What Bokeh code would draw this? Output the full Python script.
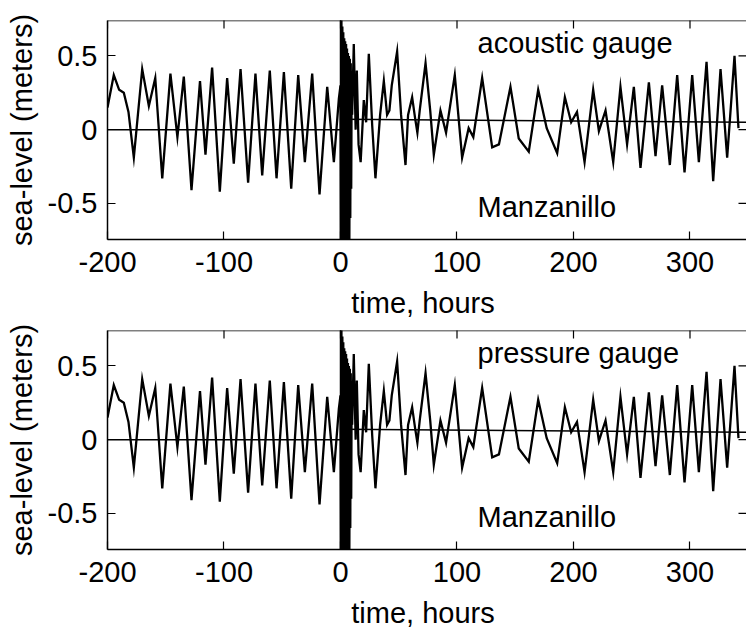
import math
from bokeh.plotting import figure
from bokeh.models import FixedTicker, Range1d, Label, NumeralTickFormatter, Span
from bokeh.layouts import column
from bokeh.embed import file_html
from bokeh.resources import INLINE

# ---- data (time in hours, sea level in meters) ----
hours = [
    -200.0, -194.6, -190.0, -186.0, -182.0, -177.4, -170.2, -164.5, -159.0, -153.0,
    -146.0, -140.0, -134.5, -127.9, -120.6, -115.9, -110.2, -103.6, -97.3, -91.6,
    -85.8, -79.3, -73.0, -67.2, -60.7, -54.9, -48.6, -42.3, -36.3, -30.6,
    -24.3, -18.0, -11.4, -5.7, -1.4,
    0.0, 0.4, 0.8, 1.2, 1.6, 2.0, 2.4, 2.8, 3.2, 3.6, 4.0, 4.4, 4.8, 5.2, 5.6,
    6.0, 6.4, 6.8, 7.2, 7.6, 8.0, 8.4, 8.8, 9.2, 9.6, 10.0,
    11.4, 13.0, 14.0, 15.5, 17.3, 20.0, 22.0, 24.3, 27.2, 30.0, 34.0, 37.2, 40.0,
    42.0, 44.0, 48.6, 52.0, 55.8, 58.0, 61.5, 64.0, 66.0, 68.0, 73.0, 77.0, 80.1,
    85.8, 90.6, 98.1, 104.4, 110.0, 114.0, 121.6,
    130.2, 136.0, 145.9, 153.0, 161.6, 169.7, 177.0, 186.0, 192.6, 198.0, 203.0,
    209.5, 216.9, 221.8, 227.5, 234.1, 240.3, 246.0, 251.8, 257.5, 264.7, 270.4,
    276.1, 282.7, 289.0, 295.3, 301.9, 307.6, 314.2, 319.9, 326.2, 331.9, 338.2,
    341.6,
]
acoustic_level = [
    0.15, 0.37, 0.27, 0.25, 0.12, -0.19, 0.41, 0.16, 0.35, -0.33,
    0.38, -0.05, 0.36, -0.41, 0.33, -0.17, 0.42, -0.42, 0.35, -0.23,
    0.41, -0.36, 0.38, -0.31, 0.40, -0.33, 0.39, -0.40, 0.37, -0.22,
    0.38, -0.44, 0.29, -0.22, 0.21,
    0.30, -0.85, 0.78, -0.85, 0.70, -0.85, 0.66, -0.85, 0.62, -0.85, 0.60, -0.85,
    0.58, -0.85, 0.55, -0.85, 0.52, -0.80, 0.50, -0.80, 0.48, -0.60, 0.45, -0.40,
    0.40, 0.10,
    0.58, 0.00, 0.40, -0.10, -0.22, 0.20, 0.05, 0.515, 0.03, -0.33, 0.10, 0.33, 0.10,
    0.13, 0.30, 0.53, 0.10, -0.24, 0.10, 0.22, 0.08, -0.02, 0.13, 0.45, 0.13, -0.17,
    0.13, -0.02, 0.37, -0.19, 0.01, -0.05, 0.35,
    -0.12, -0.10, 0.29, -0.06, -0.15, 0.27, 0.01, -0.16, 0.22, 0.05, 0.12,
    -0.22, 0.27, -0.01, 0.13, -0.22, 0.29, -0.10, 0.29, -0.26, 0.32, -0.18,
    0.30, -0.24, 0.37, -0.29, 0.37, -0.22, 0.46, -0.35, 0.41, -0.19, 0.50,
    0.01,
]
# the pressure-gauge record is visually identical to the acoustic one
pressure_level = [
    0.15, 0.37, 0.27, 0.25, 0.12, -0.19, 0.41, 0.16, 0.35, -0.33,
    0.38, -0.05, 0.36, -0.41, 0.33, -0.17, 0.42, -0.42, 0.35, -0.23,
    0.41, -0.36, 0.38, -0.31, 0.40, -0.33, 0.39, -0.40, 0.37, -0.22,
    0.38, -0.44, 0.29, -0.22, 0.21,
    0.30, -0.85, 0.78, -0.85, 0.70, -0.85, 0.66, -0.85, 0.62, -0.85, 0.60, -0.85,
    0.58, -0.85, 0.55, -0.85, 0.52, -0.80, 0.50, -0.80, 0.48, -0.60, 0.45, -0.40,
    0.40, 0.10,
    0.58, 0.00, 0.40, -0.10, -0.22, 0.20, 0.05, 0.515, 0.03, -0.33, 0.10, 0.33, 0.10,
    0.13, 0.30, 0.53, 0.10, -0.24, 0.10, 0.22, 0.08, -0.02, 0.13, 0.45, 0.13, -0.17,
    0.13, -0.02, 0.37, -0.19, 0.01, -0.05, 0.35,
    -0.12, -0.10, 0.29, -0.06, -0.15, 0.27, 0.01, -0.16, 0.22, 0.05, 0.12,
    -0.22, 0.27, -0.01, 0.13, -0.22, 0.29, -0.10, 0.29, -0.26, 0.32, -0.18,
    0.30, -0.24, 0.37, -0.29, 0.37, -0.22, 0.46, -0.35, 0.41, -0.19, 0.50,
    0.01,
]
# reference (mean) levels before and after the arrival
mean_before_t = [-200, 0]
mean_before_v = [0.0, 0.0]
mean_after_t = [0, 350]
mean_after_v = [0.07, 0.05]
arrival_t = [0, 0]
arrival_v = [-0.8, 0.8]

x_ticks = [-200, -100, 0, 100, 200, 300]
y_ticks = [-0.5, 0, 0.5]
gauge_names = ["acoustic gauge", "pressure gauge"]
station = "Manzanillo"
x_label = "time,  hours"
y_label = "sea-level (meters)"

X_MIN, X_MAX = -200, 348.5
Y_MIN, Y_MAX = -0.745, 0.74
FONT = "Liberation Sans"
FS = "29px"


def style_axis(ax):
    ax.axis_line_color = "black"
    ax.axis_line_width = 1.5
    ax.major_tick_line_color = "black"
    ax.major_tick_line_width = 1.2
    ax.major_tick_in = 8
    ax.major_tick_out = 0
    ax.minor_tick_line_color = None
    ax.major_label_text_font = FONT
    ax.major_label_text_color = "black"
    ax.major_label_text_font_size = FS
    ax.axis_label_text_font = FONT
    ax.axis_label_text_font_size = FS
    ax.axis_label_text_font_style = "normal"
    ax.axis_label_text_color = "black"


def panel(level, gauge, height, border_top):
    p = figure(width=746, height=height, output_backend="svg", toolbar_location=None,
               x_range=Range1d(X_MIN, X_MAX), y_range=Range1d(Y_MIN, Y_MAX),
               min_border_left=107, min_border_right=0, min_border_top=border_top,
               min_border_bottom=81, background_fill_color="white",
               border_fill_color="white", outline_line_color=None)
    p.grid.visible = False

    xb = p.xaxis[0]
    xb.ticker = FixedTicker(ticks=x_ticks)
    xb.formatter = NumeralTickFormatter(format="0")
    style_axis(xb)
    xb.major_label_standoff = 12
    xb.axis_label = x_label
    xb.axis_label_standoff = 12

    yl = p.yaxis[0]
    yl.ticker = FixedTicker(ticks=y_ticks)
    yl.formatter = NumeralTickFormatter(format="0.[0]")
    style_axis(yl)
    yl.major_label_standoff = 10
    yl.axis_label = y_label
    yl.axis_label_standoff = 7

    # top frame edge, with inward tick marks on top and right edges
    p.add_layout(Span(location=Y_MAX, dimension="width", line_color="black",
                      line_width=1.5))
    p.scatter(x_ticks, [Y_MAX] * len(x_ticks), marker="dash", size=16,
              angle=math.pi / 2, line_color="black", line_width=1.2)
    p.scatter([X_MAX] * len(y_ticks), y_ticks, marker="dash", size=16,
              line_color="black", line_width=1.2)

    p.line(mean_before_t, mean_before_v, line_color="black", line_width=1.5)
    p.line(mean_after_t, mean_after_v, line_color="black", line_width=1.5)
    p.line(arrival_t, arrival_v, line_color="black", line_width=1.5)
    p.line(hours, level, line_color="black", line_width=2.3, line_join="miter")

    p.add_layout(Label(x=117.6, y=0.59, text=gauge, text_font=FONT,
                       text_font_size=FS, text_color="black",
                       text_baseline="middle"))
    p.add_layout(Label(x=117.6, y=-0.522, text=station, text_font=FONT,
                       text_font_size=FS, text_color="black",
                       text_baseline="middle"))
    return p


p1 = panel(acoustic_level, gauge_names[0], 321, 20)
p2 = panel(pressure_level, gauge_names[1], 310, 9)
layout = column(p1, p2, spacing=0)

open("out.html", "w").write(file_html(layout, INLINE))
